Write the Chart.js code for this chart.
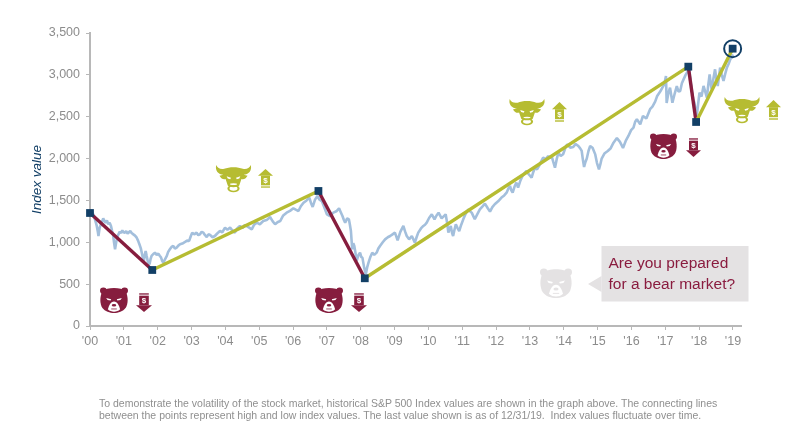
<!DOCTYPE html>
<html>
<head>
<meta charset="utf-8">
<title>S&amp;P 500 Index value</title>
<script src="https://cdn.jsdelivr.net/npm/chart.js@4"></script>
<style>
  html, body { margin: 0; padding: 0; background: #fff; }
  #wrap { position: relative; width: 800px; height: 438px; overflow: hidden; font-family: "Liberation Sans", Arial, sans-serif; }
  #grafico { position: absolute; left: 0; top: 0; }
  #callout { position: absolute; left: 608.5px; top: 252px; font-size: 15.5px; line-height: 21px; color: #8a1c3f; white-space: nowrap; }
  #nota { position: absolute; left: 99px; top: 397px; font-size: 10.5px; line-height: 12.4px; color: #8f8f8f; white-space: pre; }
</style>
</head>
<body>
<div id="wrap">
  <canvas id="grafico" width="800" height="438"></canvas>
  <div id="callout">Are you prepared<br>for a bear market?</div>
  <div id="nota">To demonstrate the volatility of the stock market, historical S&amp;P 500 Index values are shown in the graph above. The connecting lines
between the points represent high and low index values. The last value shown is as of 12/31/19.  Index values fluctuate over time.</div>
</div>
<script>
'use strict';

// Datos
const yearLabels = ["'00", "'01", "'02", "'03", "'04", "'05", "'06", "'07", "'08", "'09",
  "'10", "'11", "'12", "'13", "'14", "'15", "'16", "'17", "'18", "'19"];

const indexYears = [
  0, .04, .07, .1, .13, .17, .2, .23, .25, .285,
  .325, .36, .39, .43, .46, .5, .54, .58, .62, .65,
  .68, .71, .74, .77, .8, .84, .88, .92, .955, .99,
  1.03, 1.07, 1.11, 1.15, 1.19, 1.23, 1.28, 1.33, 1.38, 1.42,
  1.46, 1.5, 1.53, 1.56, 1.59, 1.62, 1.645, 1.675, 1.705, 1.73,
  1.76, 1.79, 1.82, 1.87, 1.92, 1.97, 2.02, 2.06, 2.1, 2.13,
  2.17, 2.22, 2.27, 2.31, 2.36, 2.41, 2.46, 2.51, 2.56, 2.61,
  2.66, 2.73, 2.81, 2.87, 2.93, 2.98, 3.02, 3.08, 3.15, 3.2,
  3.25, 3.3, 3.35, 3.4, 3.45, 3.5, 3.55, 3.62, 3.69, 3.76,
  3.84, 3.91, 3.99, 4.06, 4.14, 4.21, 4.28, 4.35, 4.43, 4.5,
  4.58, 4.68, 4.78, 4.85, 4.93, 5.02, 5.12, 5.22, 5.32, 5.4,
  5.47, 5.54, 5.62, 5.71, 5.81, 5.91, 6.01, 6.08, 6.16, 6.23,
  6.31, 6.4, 6.48, 6.53, 6.58, 6.65, 6.72, 6.78, 6.85, 6.92,
  7.0, 7.09, 7.19, 7.28, 7.36, 7.41, 7.46, 7.5, 7.54, 7.6,
  7.65, 7.68, 7.71, 7.73, 7.75, 7.78, 7.81, 7.85, 7.88, 7.93,
  7.98, 8.02, 8.05, 8.1, 8.15, 8.19, 8.23, 8.28, 8.34, 8.4,
  8.47, 8.52, 8.57, 8.65, 8.72, 8.8, 8.87, 8.94, 9.01, 9.05,
  9.09, 9.17, 9.26, 9.31, 9.36, 9.43, 9.51, 9.6, 9.65, 9.7,
  9.78, 9.85, 9.9, 9.95, 10.02, 10.1, 10.18, 10.24, 10.3, 10.39,
  10.45, 10.51, 10.55, 10.59, 10.63, 10.66, 10.7, 10.73, 10.77, 10.81,
  10.86, 10.91, 10.97, 11.03, 11.1, 11.18, 11.23, 11.28, 11.33, 11.37,
  11.45, 11.52, 11.6, 11.67, 11.75, 11.82, 11.89, 11.96, 12.06, 12.16,
  12.24, 12.31, 12.36, 12.41, 12.45, 12.49, 12.55, 12.6, 12.65, 12.72,
  12.78, 12.84, 12.9, 12.97, 13.05, 13.1, 13.15, 13.21, 13.27, 13.33,
  13.39, 13.46, 13.54, 13.59, 13.64, 13.69, 13.74, 13.79, 13.84, 13.91,
  13.98, 14.04, 14.1, 14.19, 14.28, 14.35, 14.43, 14.48, 14.53, 14.56,
  14.6, 14.64, 14.68, 14.73, 14.78, 14.85, 14.93, 14.98, 15.04, 15.08,
  15.12, 15.2, 15.3, 15.38, 15.47, 15.57, 15.66, 15.75, 15.83, 15.91,
  15.99, 16.06, 16.11, 16.16, 16.26, 16.34, 16.44, 16.55, 16.62, 16.7,
  16.76, 16.85, 16.93, 16.97, 17.02, 17.04, 17.09, 17.14, 17.21, 17.28,
  17.34, 17.39, 17.44, 17.49, 17.54, 17.6, 17.64, 17.71, 17.74, 17.78,
  17.82, 17.86, 17.9, 17.93, 17.97, 18.01, 18.07, 18.13, 18.18, 18.23,
  18.27, 18.31, 18.34, 18.37, 18.42, 18.47, 18.51, 18.55, 18.59, 18.62,
  18.67, 18.72, 18.77, 18.82, 18.87, 18.92, 18.96, 19.0
];

const indexValues = [
  1350, 1385, 1354, 1330, 1294, 1240, 1195, 1130, 1075, 1175,
  1215, 1250, 1286, 1250, 1235, 1260, 1215, 1235, 1195, 1140,
  1095, 1000, 916, 990, 1055, 1095, 1127, 1110, 1143, 1120,
  1115, 1135, 1103, 1120, 1135, 1110, 1095, 1080, 1055, 1020,
  976, 930, 876, 820, 777, 850, 896, 835, 777, 750,
  737, 800, 837, 860, 876, 850, 864, 840, 817, 780,
  757, 800, 837, 885, 916, 945, 956, 925, 936, 960,
  976, 985, 1004, 1020, 1016, 1075, 1115, 1095, 1115, 1085,
  1095, 1125, 1115, 1085, 1063, 1095, 1087, 1060, 1075, 1105,
  1135, 1120, 1175, 1150, 1175, 1140, 1115, 1165, 1195, 1170,
  1207, 1180, 1155, 1210, 1235, 1215, 1254, 1265, 1302, 1250,
  1215, 1240, 1254, 1320, 1354, 1375, 1406, 1390, 1374, 1430,
  1473, 1500, 1533, 1470, 1422, 1510, 1553, 1510, 1493, 1420,
  1334, 1314, 1354, 1370, 1406, 1360, 1314, 1270, 1235, 1285,
  1274, 1210, 1135, 1020, 915, 990, 956, 860, 777, 845,
  876, 820, 817, 700, 618, 700, 757, 820, 876, 850,
  876, 925, 956, 1000, 1035, 1060, 1075, 1095, 1115, 1070,
  1024, 1125, 1195, 1130, 1075, 1035, 1075, 996, 1060, 1115,
  1165, 1195, 1210, 1235, 1290, 1334, 1274, 1320, 1354, 1286,
  1310, 1334, 1240, 1115, 1160, 1195, 1110, 1075, 1150, 1215,
  1170, 1135, 1210, 1274, 1340, 1394, 1370, 1354, 1310, 1275,
  1340, 1394, 1430, 1462, 1410, 1366, 1420, 1454, 1490, 1534,
  1560, 1593, 1640, 1673, 1620, 1593, 1670, 1713, 1653, 1740,
  1792, 1825, 1852, 1810, 1772, 1840, 1892, 1870, 1912, 1965,
  2011, 1990, 2031, 2005, 2031, 1960, 1892, 1990, 2071, 2030,
  2051, 2120, 2170, 2130, 2139, 2175, 2150, 2125, 2091, 2000,
  1899, 1960, 2000, 2090, 2150, 2130, 2050, 1950, 1870, 1930,
  2000, 2060, 2090, 2120, 2190, 2245, 2200, 2127, 2210, 2270,
  2340, 2369, 2440, 2470, 2409, 2509, 2480, 2590, 2620, 2680,
  2747, 2800, 2860, 2886, 2986, 2664, 2780, 2847, 2667, 2780,
  2866, 2800, 2807, 2900, 2946, 3000, 3026, 3066, 2950, 2827,
  2720, 2668, 2570, 2509, 2650, 2787, 2740, 2867, 2800, 2728,
  2880, 3006, 2900, 2827, 2950, 3066, 2950, 2867, 2990, 3086,
  3000, 2927, 3010, 3086, 3130, 3185, 3210, 3245
];

const swingYears = [0, 1.84, 6.75, 8.12, 17.68, 17.91, 18.99];
const swingValues = [1350, 669, 1613, 570, 3098, 2437, 3313];

const lastYear = [18.99];
const lastValue = [3313];

// Colores
const COLOR_AZUL = '#a3bfdc';
const COLOR_NAVY = '#123f66';
const COLOR_BEAR = '#861d3e';
const COLOR_BULL = '#b6bc32';
const COLOR_GRIS = '#e4e2e3';
const COLOR_EJE = '#b8b8b8';
const COLOR_TEXTO = '#8c8c8c';

// Iconos decorativos (posicion en pixeles del lienzo)
const osos = [
  { x: 100, y: 287, w: 28, h: 26, color: COLOR_BEAR },
  { x: 315, y: 287, w: 28, h: 26, color: COLOR_BEAR },
  { x: 650, y: 133, w: 27, h: 26, color: COLOR_BEAR },
  { x: 540, y: 268, w: 32, h: 30, color: COLOR_GRIS }
];
const toros = [
  { x: 215.5, y: 165, w: 36, h: 27 },
  { x: 509, y: 99, w: 36, h: 26 },
  { x: 724, y: 97, w: 36, h: 26 }
];
const flechasArriba = [
  { x: 258, y: 169, w: 15, h: 19 },
  { x: 552, y: 102, w: 15, h: 20 },
  { x: 766, y: 100, w: 15, h: 20 }
];
const flechasAbajo = [
  { x: 136, y: 293, w: 16, h: 19 },
  { x: 351, y: 293, w: 16, h: 19 },
  { x: 686, y: 138, w: 15, h: 19 }
];

function zip(xs, ys) {
  return xs.map(function (x, i) {
    return { x: x, y: ys[i] };
  });
}

function dibujarOso(ctx, o) {
  ctx.save();
  ctx.translate(o.x, o.y);
  ctx.scale(o.w / 100, o.h / 100);
  ctx.fillStyle = o.color;
  ctx.beginPath();
  ctx.arc(12, 14, 12, 0, Math.PI * 2);
  ctx.arc(88, 14, 12, 0, Math.PI * 2);
  ctx.fill();
  ctx.beginPath();
  ctx.moveTo(8, 16);
  ctx.bezierCurveTo(25, 0, 75, 0, 92, 16);
  ctx.bezierCurveTo(102, 40, 100, 65, 92, 80);
  ctx.bezierCurveTo(82, 95, 65, 100, 50, 100);
  ctx.bezierCurveTo(35, 100, 18, 95, 8, 80);
  ctx.bezierCurveTo(0, 65, -2, 40, 8, 16);
  ctx.fill();
  ctx.fillStyle = '#fff';
  // ojos
  ctx.beginPath();
  ctx.moveTo(22, 42);
  ctx.lineTo(40, 47);
  ctx.lineTo(38, 52);
  ctx.lineTo(27, 50);
  ctx.closePath();
  ctx.moveTo(78, 42);
  ctx.lineTo(60, 47);
  ctx.lineTo(62, 52);
  ctx.lineTo(73, 50);
  ctx.closePath();
  ctx.fill();
  // hocico
  ctx.beginPath();
  ctx.moveTo(50, 56);
  ctx.bezierCurveTo(62, 56, 68, 72, 72, 86);
  ctx.bezierCurveTo(66, 93, 58, 95, 50, 95);
  ctx.bezierCurveTo(42, 95, 34, 93, 28, 86);
  ctx.bezierCurveTo(32, 72, 38, 56, 50, 56);
  ctx.fill();
  ctx.fillStyle = o.color;
  ctx.beginPath();
  ctx.ellipse(50, 70, 8, 5, 0, 0, Math.PI * 2);
  ctx.fill();
  ctx.fillRect(40, 83, 20, 3);
  ctx.restore();
}

function dibujarToro(ctx, t) {
  ctx.save();
  ctx.translate(t.x, t.y);
  ctx.scale(t.w / 100, t.h / 100);
  // argolla
  ctx.strokeStyle = COLOR_BULL;
  ctx.lineWidth = 6;
  ctx.beginPath();
  ctx.ellipse(50, 87, 14, 11, 0, 0, Math.PI * 2);
  ctx.stroke();
  ctx.fillStyle = COLOR_BULL;
  ctx.beginPath();
  ctx.moveTo(2, 0);
  ctx.bezierCurveTo(-2, 20, 8, 36, 22, 36);
  ctx.lineTo(11, 40);
  ctx.bezierCurveTo(16, 52, 22, 54, 28, 52);
  ctx.lineTo(34, 76);
  ctx.bezierCurveTo(38, 84, 62, 84, 66, 76);
  ctx.lineTo(72, 52);
  ctx.bezierCurveTo(78, 54, 84, 52, 89, 40);
  ctx.lineTo(78, 36);
  ctx.bezierCurveTo(92, 36, 102, 20, 98, 0);
  ctx.bezierCurveTo(94, 12, 86, 17, 76, 14);
  ctx.bezierCurveTo(62, 6, 38, 6, 24, 14);
  ctx.bezierCurveTo(14, 17, 6, 12, 2, 0);
  ctx.closePath();
  ctx.fill();
  ctx.fillStyle = '#fff';
  ctx.beginPath();
  ctx.moveTo(31, 42);
  ctx.lineTo(43, 47);
  ctx.lineTo(41, 53);
  ctx.lineTo(34, 50);
  ctx.closePath();
  ctx.moveTo(69, 42);
  ctx.lineTo(57, 47);
  ctx.lineTo(59, 53);
  ctx.lineTo(66, 50);
  ctx.closePath();
  ctx.fill();
  ctx.beginPath();
  ctx.ellipse(50, 71, 10, 3, 0, 0, Math.PI * 2);
  ctx.fill();
  ctx.restore();
}

function dibujarFlecha(ctx, f, arriba, color) {
  ctx.save();
  ctx.translate(f.x, f.y);
  const w = f.w;
  const h = f.h;
  const cuerpoW = w * 0.6;
  const cx = w / 2;
  ctx.fillStyle = color;
  ctx.beginPath();
  if (arriba) {
    ctx.moveTo(cx, 0);
    ctx.lineTo(w, h * 0.36);
    ctx.lineTo(0, h * 0.36);
    ctx.closePath();
    ctx.fill();
    ctx.fillRect(cx - cuerpoW / 2, h * 0.36, cuerpoW, h * 0.5);
    ctx.globalAlpha = 0.7;
    ctx.fillRect(cx - cuerpoW / 2, h * 0.9, cuerpoW, h * 0.1);
  } else {
    ctx.moveTo(cx, h);
    ctx.lineTo(w, h * 0.64);
    ctx.lineTo(0, h * 0.64);
    ctx.closePath();
    ctx.fill();
    ctx.fillRect(cx - cuerpoW / 2, h * 0.14, cuerpoW, h * 0.5);
    ctx.globalAlpha = 0.7;
    ctx.fillRect(cx - cuerpoW / 2, 0, cuerpoW, h * 0.1);
  }
  ctx.globalAlpha = 1;
  ctx.fillStyle = '#fff';
  ctx.font = 'bold 8px "Liberation Sans", Arial, sans-serif';
  ctx.textAlign = 'center';
  ctx.textBaseline = 'middle';
  ctx.fillText('$', cx, arriba ? h * 0.62 : h * 0.4);
  ctx.restore();
}

function dibujarCallout(ctx) {
  ctx.save();
  ctx.fillStyle = COLOR_GRIS;
  ctx.fillRect(601.5, 246, 147, 55.5);
  ctx.beginPath();
  ctx.moveTo(601.5, 276);
  ctx.lineTo(588, 284);
  ctx.lineTo(601.5, 292);
  ctx.closePath();
  ctx.fill();
  ctx.restore();
}

const pluginIconos = {
  id: 'iconos',
  afterDraw: function (chart) {
    const ctx = chart.ctx;
    dibujarCallout(ctx);
    osos.forEach(function (o) { dibujarOso(ctx, o); });
    toros.forEach(function (t) { dibujarToro(ctx, t); });
    flechasArriba.forEach(function (f) { dibujarFlecha(ctx, f, true, COLOR_BULL); });
    flechasAbajo.forEach(function (f) { dibujarFlecha(ctx, f, false, COLOR_BEAR); });
  }
};

new Chart(document.getElementById('grafico').getContext('2d'), {
  type: 'line',
  data: {
    datasets: [
      {
        label: 'Last value',
        data: zip(lastYear, lastValue),
        showLine: false,
        clip: false,
        pointStyle: 'circle',
        pointRadius: 8.5,
        pointBorderWidth: 2,
        pointBorderColor: COLOR_NAVY,
        pointBackgroundColor: 'rgba(0,0,0,0)',
        order: 0
      },
      {
        label: 'High and low',
        data: zip(swingYears, swingValues),
        clip: false,
        borderColor: COLOR_BULL,
        borderWidth: 3.4,
        tension: 0,
        segment: {
          borderColor: function (c) {
            return c.p1.parsed.y < c.p0.parsed.y ? COLOR_BEAR : COLOR_BULL;
          }
        },
        pointStyle: 'rect',
        pointRadius: 5.5,
        pointBorderWidth: 0,
        pointBackgroundColor: COLOR_NAVY,
        order: 1
      },
      {
        label: 'S&P 500',
        data: zip(indexYears, indexValues),
        borderColor: COLOR_AZUL,
        borderWidth: 2.6,
        borderJoinStyle: 'bevel',
        tension: 0,
        pointRadius: 0,
        order: 2
      }
    ]
  },
  options: {
    responsive: false,
    animation: false,
    layout: { padding: { left: 0, top: 33, right: 59, bottom: 0 } },
    plugins: { legend: { display: false }, tooltip: { enabled: false } },
    scales: {
      x: {
        type: 'linear',
        min: 0,
        max: 19.237,
        afterFit: function (scale) { scale.height = 112; },
        border: { color: COLOR_EJE, width: 2 },
        grid: { drawOnChartArea: false, drawTicks: true, tickLength: 4, color: COLOR_EJE },
        ticks: {
          stepSize: 1,
          includeBounds: false,
          autoSkip: false,
          maxRotation: 0,
          padding: 4,
          color: COLOR_TEXTO,
          font: { family: '"Liberation Sans", Arial, sans-serif', size: 12.5 },
          callback: function (v) { return yearLabels[v]; }
        }
      },
      y: {
        min: 0,
        max: 3500,
        afterFit: function (scale) { scale.width = 90; },
        border: { color: COLOR_EJE, width: 2 },
        grid: { drawOnChartArea: false, drawTicks: true, tickLength: 4, color: COLOR_EJE },
        title: {
          display: true,
          text: 'Index value',
          color: COLOR_NAVY,
          font: { family: '"Liberation Sans", Arial, sans-serif', size: 13.5, style: 'italic', lineHeight: 1.2 },
          padding: { top: 29, bottom: 0 }
        },
        ticks: {
          stepSize: 500,
          padding: 6,
          color: COLOR_TEXTO,
          font: { family: '"Liberation Sans", Arial, sans-serif', size: 12.5 },
          callback: function (v) { return v.toLocaleString('en-US'); }
        }
      }
    }
  },
  plugins: [pluginIconos]
});
</script>
</body>
</html>
